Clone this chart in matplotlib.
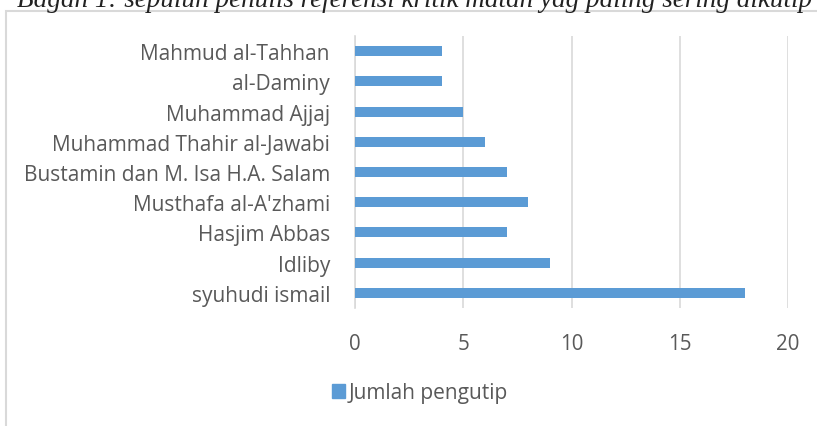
import matplotlib
matplotlib.use("Agg")
import matplotlib.pyplot as plt
from matplotlib.patches import Rectangle, Patch

names = ["syuhudi ismail", "Idliby", "Hasjim Abbas", "Musthafa al-A'zhami",
         "Bustamin dan M. Isa H.A. Salam", "Muhammad Thahir al-Jawabi",
         "Muhammad Ajjaj", "al-Daminy", "Mahmud al-Tahhan"]
values = [18, 9, 7, 8, 7, 6, 5, 4, 4]
xticks = [0, 5, 10, 15, 20]
series_name = "Jumlah pengutip"
title = "Bagan 1: sepuluh penulis referensi kritik matan yag paling sering dikutip"

W, H = 817, 427
fig = plt.figure(figsize=(W/100, H/100), dpi=100)
txt = "#595959"
grid = "#D9D9D9"
bar_c = "#5B9BD5"
font = "Open Sans"
fs = 15

# outer chart frame
fig.patches.append(Rectangle((6/W, -0.05), 1.2, 1 - 12/H + 0.05, transform=fig.transFigure,
                             fill=False, edgecolor=grid, lw=1.5))

fig.text(415/W, 1 - 7/H, title, ha="center", va="baseline", fontsize=19.5,
         family="Liberation Serif", style="italic", color="#222222")

ax = fig.add_axes([355/W, 1 - 309/H, (788-355)/W, (309-37)/H])
ypos = list(range(len(names)))
ax.barh(ypos, values, height=0.33, color=bar_c, zorder=3)
ax.set_yticks(ypos)
ax.set_yticklabels(names, fontsize=fs, color=txt, family=font)
ax.set_ylim(-0.5, len(names) - 0.5)
ax.set_xlim(0, 20)
ax.set_xticks(xticks)
ax.set_xticklabels([str(t) for t in xticks], fontsize=14.8, color=txt, family=font)
ax.tick_params(axis="x", length=0, pad=18)
ax.tick_params(axis="y", length=0, pad=18)
ax.grid(axis="x", color=grid, lw=1.2, zorder=0)
for s in ["top", "right", "bottom"]:
    ax.spines[s].set_visible(False)
ax.spines["left"].set_color(grid)
ax.spines["left"].set_linewidth(1.2)

leg = fig.legend(handles=[Patch(color=bar_c, label=series_name)],
                 loc="center left", bbox_to_anchor=(332/W, 1 - 394/H),
                 frameon=False, handlelength=0.62, handleheight=0.62,
                 handletextpad=0.2, borderpad=0, borderaxespad=0,
                 prop={"family": font, "size": fs})
for t in leg.get_texts():
    t.set_color(txt)

fig.savefig("out.png", dpi=100)
